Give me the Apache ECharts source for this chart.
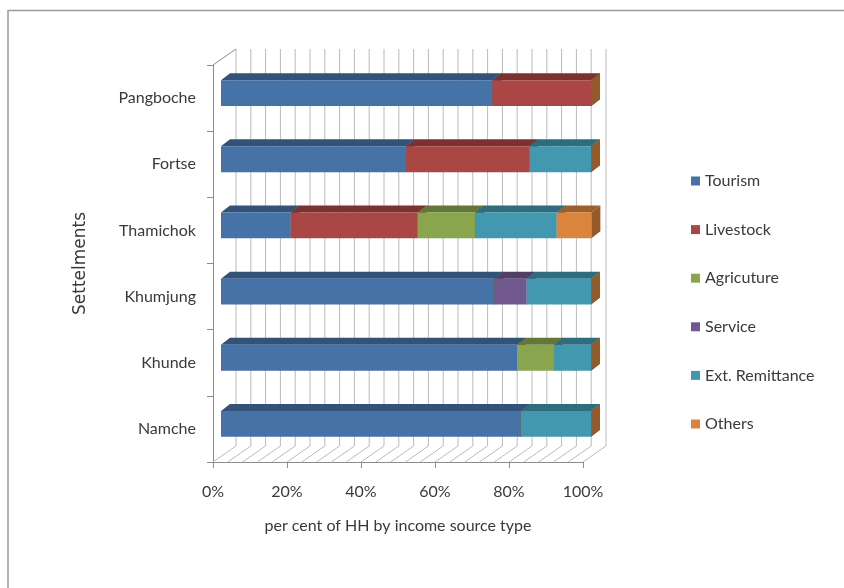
<!DOCTYPE html>
<html>
<head>
<meta charset="utf-8">
<script src="https://cdn.jsdelivr.net/npm/echarts@6/dist/echarts.min.js"></script>
<style>
  html, body { margin: 0; padding: 0; background: #ffffff; }
  #chart { width: 844px; height: 588px; }
</style>
</head>
<body>
<div id="chart"></div>
<script>
// Settlements, listed from top to bottom
const settlements = ['Pangboche', 'Fortse', 'Thamichok', 'Khumjung', 'Khunde', 'Namche'];
// Income source types (legend order)
const sources = ['Tourism', 'Livestock', 'Agricuture', 'Service', 'Ext. Remittance', 'Others'];

// Per cent of households by income source, one value per settlement
const tourism     = [73.3, 50.0, 18.8, 73.9, 80.0, 81.0];
const livestock   = [26.7, 33.3, 34.4, 0,    0,    0];
const agriculture = [0,    0,    15.6, 0,    10.0, 0];
const service     = [0,    0,    0,    8.7,  0,    0];
const remittance  = [0,    16.7, 21.9, 17.4, 10.0, 19.0];
const others      = [0,    0,    9.4,  0,    0,    0];

// Value axis ticks and the finer wall grid steps
const xTickStep = 20;
const wallGridSteps = [0, 4, 8, 12, 16, 20, 24, 28, 32, 36, 40, 44, 48, 52, 56, 60, 64, 68, 72, 76, 80, 84, 88, 92, 96, 100];

const seriesValues = [tourism, livestock, agriculture, service, remittance, others];
const colors = ['#4572A7', '#AA4643', '#89A54E', '#71588F', '#4198AF', '#DB843D'];

// Pseudo-3D projection offsets (pixels)
const WALL = [23, -16];     // back wall relative to the axis plane
const FRONT = [8, -5];      // front face of bars relative to the axis plane
const DEPTH = [9, -7];      // bar depth (front face to back face)
const BAR_RATIO = 0.39;     // bar thickness as a share of the category band

function shade(hex, k) {
  const n = parseInt(hex.slice(1), 16);
  const r = Math.round(((n >> 16) & 255) * k);
  const g = Math.round(((n >> 8) & 255) * k);
  const b = Math.round((n & 255) * k);
  return 'rgb(' + r + ',' + g + ',' + b + ')';
}

// Build stacked segments [categoryIndex, start, end] for each source
const cumulative = settlements.map(() => 0);
const segmentData = seriesValues.map(vals => vals.map((v, i) => {
  const start = cumulative[i];
  cumulative[i] += v;
  return [i, start, start + v];
}));

function renderSegment(params, api) {
  const cat = api.value(0);
  const p0 = api.coord([api.value(1), cat]);
  const p1 = api.coord([api.value(2), cat]);
  const h = api.size([0, 1])[1] * BAR_RATIO;
  const left = p0[0] + FRONT[0];
  const right = p1[0] + FRONT[0];
  const top = p0[1] + FRONT[1] - h / 2;
  const bottom = top + h;
  const dx = DEPTH[0], dy = DEPTH[1];
  const c = api.visual('color');
  return {
    type: 'group',
    children: [
      { type: 'polygon',
        shape: { points: [[left, top], [right, top], [right + dx, top + dy], [left + dx, top + dy]] },
        style: { fill: shade(c, 0.72) } },
      { type: 'polygon',
        shape: { points: [[right, top], [right + dx, top + dy], [right + dx, bottom + dy], [right, bottom]] },
        style: { fill: shade(c, 0.68) } },
      { type: 'rect',
        shape: { x: left, y: top, width: right - left, height: h },
        style: { fill: c } }
    ]
  };
}

function renderWallGrid(params, api) {
  const v = api.value(0);
  const cs = params.coordSys;
  const x = api.coord([v, 0])[0];
  const top = cs.y, bottom = cs.y + cs.height;
  const lineStyle = { stroke: '#bababa', lineWidth: 1 };
  const children = [
    { type: 'line', shape: { x1: x + WALL[0], y1: top + WALL[1], x2: x + WALL[0], y2: bottom + WALL[1] }, style: lineStyle },
    { type: 'line', shape: { x1: x, y1: bottom, x2: x + WALL[0], y2: bottom + WALL[1] }, style: lineStyle }
  ];
  if (params.dataIndex === 0) {
    children.push({ type: 'line', shape: { x1: x, y1: top, x2: x + WALL[0], y2: top + WALL[1] },
      style: { stroke: '#8c8c8c', lineWidth: 1 } });
  }
  return { type: 'group', children: children };
}

const textColor = '#3a3a3a';
const fontFamily = 'Lato, "Open Sans", sans-serif';

const series = [{
  type: 'custom',
  name: 'wall',
  silent: true,
  z: 1,
  renderItem: renderWallGrid,
  encode: { x: 0, y: 1 },
  data: wallGridSteps.map(v => [v, 0])
}].concat(sources.map((name, k) => ({
  type: 'custom',
  name: name,
  z: 2 + k,
  itemStyle: { color: colors[k] },
  renderItem: renderSegment,
  encode: { x: [1, 2], y: 0 },
  data: segmentData[k]
})));

const chart = echarts.init(document.getElementById('chart'), null, { renderer: 'canvas' });
chart.setOption({
  backgroundColor: '#ffffff',
  animation: false,
  grid: { left: 213, right: 261, top: 65, bottom: 126, containLabel: false },
  xAxis: {
    type: 'value',
    min: 0,
    max: 100,
    interval: xTickStep,
    name: 'per cent of HH by income source type',
    nameLocation: 'middle',
    nameGap: 56,
    nameTextStyle: { fontFamily: fontFamily, fontSize: 16, color: textColor },
    axisLine: { show: true, lineStyle: { color: '#8c8c8c', width: 1 } },
    axisTick: { show: true, length: 6, lineStyle: { color: '#8c8c8c' } },
    axisLabel: { formatter: '{value}%', margin: 22, fontFamily: fontFamily, fontSize: 16, color: textColor },
    splitLine: { show: false }
  },
  yAxis: {
    type: 'category',
    inverse: true,
    data: settlements,
    name: 'Settelments',
    nameLocation: 'middle',
    nameRotate: 90,
    nameGap: 124,
    nameTextStyle: { fontFamily: '"DejaVu Sans", sans-serif', fontSize: 17, color: textColor },
    axisLine: { show: true, lineStyle: { color: '#8c8c8c', width: 1 } },
    axisTick: { show: true, length: 6, lineStyle: { color: '#8c8c8c' } },
    axisLabel: { margin: 17, fontFamily: fontFamily, fontSize: 16, color: textColor },
    splitLine: { show: false }
  },
  legend: {
    orient: 'vertical',
    left: 686,
    top: 168,
    itemWidth: 9,
    itemHeight: 9,
    itemGap: 32.6,
    icon: 'rect',
    data: sources,
    selectedMode: false,
    textStyle: { fontFamily: fontFamily, fontSize: 16, color: textColor }
  },
  graphic: [{
    type: 'rect',
    silent: true,
    shape: { x: 8, y: 10.5, width: 900, height: 700 },
    style: { fill: 'none', stroke: '#9a9a9a', lineWidth: 1.5 },
    z: -10
  }],
  series: series
});
</script>
</body>
</html>
